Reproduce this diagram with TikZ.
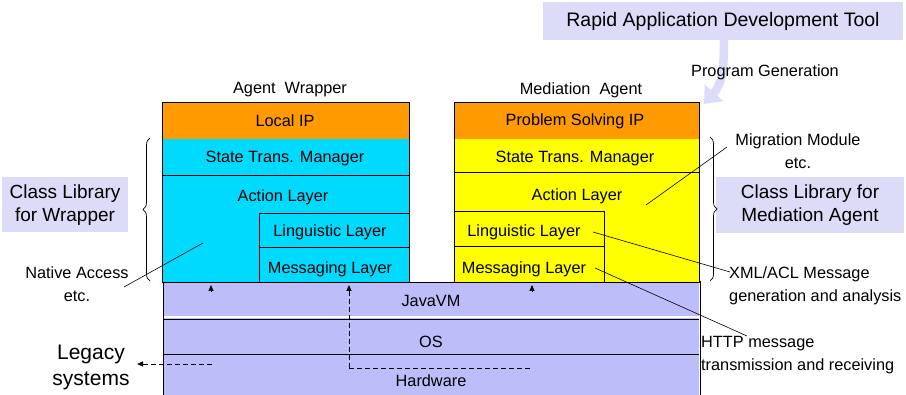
\documentclass[tikz,border=0pt]{standalone}
\usepackage{fontspec}
\setmainfont{Liberation Sans}
\usetikzlibrary{arrows.meta,decorations.pathreplacing}
\definecolor{band}{HTML}{BDBDFA}
\definecolor{tag}{HTML}{DCDCF8}
\definecolor{wrapcyan}{HTML}{00DAFF}
\definecolor{iporange}{HTML}{FF9A00}
\definecolor{medyellow}{HTML}{FFFF00}
\begin{document}
\begin{tikzpicture}[x=1pt,y=-1pt,
  txt/.style={font=\fontsize{16.3}{23}\selectfont, inner sep=0pt, align=center},
  bigtxt/.style={font=\fontsize{19}{23}\selectfont, inner sep=0pt, align=center},
  hugetxt/.style={font=\fontsize{21}{26}\selectfont, inner sep=0pt, align=center},
  edge/.style={line width=0.8pt},
  leader/.style={line width=0.6pt},
  smallhead/.style={line width=0.6pt, -{Triangle[width=5pt,length=6pt]}},
  dashlink/.style={line width=0.8pt, dash pattern=on 5pt off 3pt},
  brc/.style={line width=0.7pt, decorate, decoration={brace, amplitude=7pt}}]
\useasboundingbox (0,0) rectangle (906,395);

% ---- platform bands: JavaVM, OS, Hardware
\fill[band] (163,282) rectangle (699,316.5);
\fill[band] (163,318) rectangle (699,395);
\draw[edge] (163,319) -- (699,319);
\draw[edge] (163,354) -- (699,354);
\draw[edge] (163,282) -- (163,395);
\draw[edge] (700,281) -- (700,395);
\draw[edge] (162,282) -- (700,282);
\node[txt] (jvm) at (431,301) {JavaVM};
\node[txt] (os) at (431,342) {OS};
\node[txt] (hw) at (431,381) {Hardware};

% ---- Agent Wrapper stack
\fill[iporange] (162,102) rectangle (409,139);
\fill[wrapcyan] (162,139) rectangle (409,282);
\draw[edge] (162,282) -- (162,102) -- (409,102) -- (409,282);
\draw[edge] (162,175) -- (409,175);
\draw[edge] (259,282) -- (259,213) -- (409,213);
\draw[edge] (259,247) -- (409,247);
\node[txt] (wtitle) at (290,90) {Agent\ \ Wrapper};
\node[txt] (localip) at (285,121) {Local IP};
\node[txt] (wstate) at (285,159) {State Trans. Manager};
\node[txt] (waction) at (283,197) {Action Layer};
\node[txt] (wling) at (330,232) {Linguistic Layer};
\node[txt] (wmsg) at (330,269) {Messaging Layer};

% ---- Mediation Agent stack
\fill[iporange] (454,102) rectangle (699,139);
\fill[medyellow] (454,139) rectangle (699,282);
\draw[edge] (454,282) -- (454,102) -- (699,102) -- (699,282);
\draw[edge] (454,172) -- (699,172);
\draw[edge] (454,211) -- (604,211) -- (604,282);
\draw[edge] (454,246) -- (604,246);
\node[txt] (mtitle) at (581,90) {Mediation\ \ Agent};
\node[txt] (psip) at (575,121) {Problem Solving IP};
\node[txt] (mstate) at (575,159) {State Trans. Manager};
\node[txt] (maction) at (577,196) {Action Layer};
\node[txt] (mling) at (524,232) {Linguistic Layer};
\node[txt] (mmsg) at (524,269) {Messaging Layer};

% ---- calls into the platform
\coordinate (a1) at (211,292);
\coordinate (a1t) at (211,285);
\coordinate (a2) at (532,292);
\coordinate (a2t) at (532,285);
\draw[smallhead] (a1) -- (a1t);
\draw[smallhead] (a2) -- (a2t);
\coordinate (hwcorner) at (349,368);
\coordinate (hwtop) at (349,285);
\coordinate (hwend) at (531,368);
\draw[dashlink, -{Triangle[width=5pt,length=6pt]}] (hwcorner) -- (hwtop);
\draw[dashlink] (hwcorner) -- (hwend);

% ---- legacy systems
\node[hugetxt] (legacy) at (91,367) {Legacy\\systems};
\coordinate (legstart) at (212,364);
\draw[dashlink, -{Triangle[width=5pt,length=6pt]}] (legstart) -- (137,364);

% ---- class library labels and braces
\node[bigtxt, fill=tag, minimum width=126pt, minimum height=55pt] (clw) at (65,205) {Class Library\\for Wrapper};
\draw[brc] (150,281) -- (150,138);
\node[bigtxt, fill=tag, minimum width=188pt, minimum height=56pt] (clm) at (810,205) {Class Library for\\Mediation Agent};
\draw[brc] (710,137) -- (710,281);

% ---- annotations
\node[txt] (native) at (77,284) {Native Access\\etc.};
\coordinate (nativein) at (203,243);
\draw[leader] (124,287) -- (nativein);

\node[txt] (migr) at (798,151) {Migration Module\\etc.};
\coordinate (migrin) at (646,205);
\draw[leader] (migrin) -- (727,147);

\node[txt, align=left, anchor=west] (xml) at (729,286) {XML/ACL Message\\generation and analysis};
\coordinate (lingpt) at (593,232);
\draw[leader] (lingpt) -- (730,272);

\node[txt, align=left, anchor=west] (http) at (701,355) {HTTP message\\transmission and receiving};
\coordinate (msgpt) at (595,268);
\draw[leader] (msgpt) -- (747,336);

% ---- development tool
\node[bigtxt, font=\fontsize{19.5}{23}\selectfont, fill=tag, minimum width=360pt, minimum height=38pt] (rad) at (723,21) {Rapid Application Development Tool};
\draw[tag, line width=8.5pt, -{Triangle[width=24pt,length=15pt]}] (724,40) .. controls (724,70) and (722,84) .. (704,104);
\node[txt] (proggen) at (765,72) {Program Generation};
\end{tikzpicture}
\end{document}
